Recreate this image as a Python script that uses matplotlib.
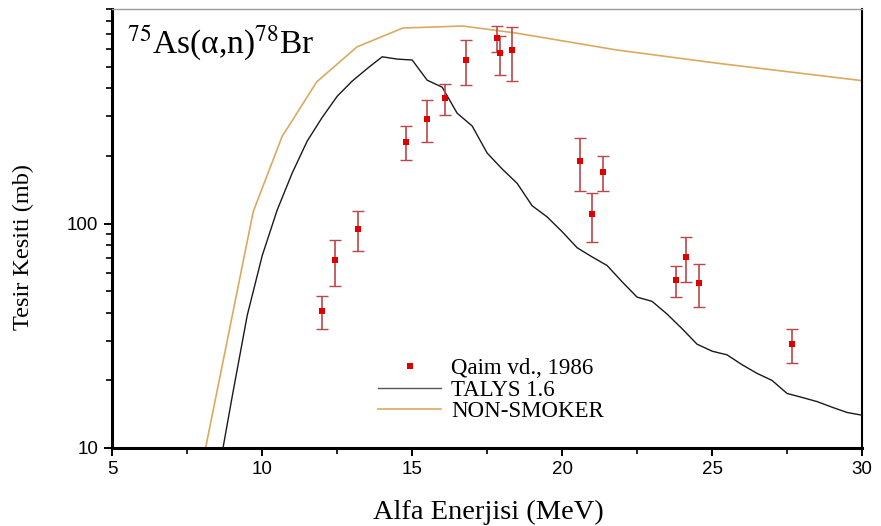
import matplotlib
matplotlib.use("Agg")
import matplotlib.pyplot as plt
from matplotlib.ticker import FixedLocator, NullFormatter, LogLocator
from matplotlib.lines import Line2D

plt.rcParams['mathtext.fontset'] = 'stix'

# --- data -----------------------------------------------------------------
qaim_E = [11.99, 12.42, 13.19, 14.79, 15.49, 16.09, 16.79, 17.82, 17.92, 18.32,
          20.59, 20.99, 21.36, 23.79, 24.12, 24.56, 27.66]
qaim_sigma = [40.7, 68.7, 94.4, 231, 292, 362, 535, 670, 574, 593,
              190, 110, 169, 56, 71, 54.3, 29]
qaim_err = [6.8, 16, 19, 40, 62, 58, 123, 88, 113, 160,
            50, 27, 30, 9, 16, 12, 5]

talys_E = [8.5, 9.0, 9.5, 10.0, 10.5, 11.0, 11.5, 12.0, 12.5, 13.0, 13.5, 14.0,
           14.5, 15.0, 15.5, 16.0, 16.5, 17.0, 17.5, 18.0, 18.5, 19.0, 19.5, 20.0,
           20.5, 21.0, 21.5, 22.0, 22.5, 23.0, 23.5, 24.0, 24.5, 25.0, 25.5, 26.0,
           26.5, 27.0, 27.5, 28.0, 28.5, 29.0, 29.5, 30.0]
talys_sigma = [7.2, 17, 39, 72, 115, 168, 233, 297, 369, 431, 490, 553,
               540, 535, 435, 405, 310, 272, 206, 175, 151, 120, 107, 92,
               78, 71, 65, 55, 47, 45, 39.5, 34, 29, 27, 26, 23.5,
               21.5, 20, 17.5, 16.8, 16.1, 15.2, 14.4, 14.0]

ns_E = [8.0, 9.7, 10.66, 11.82, 13.16, 14.69, 16.69, 18.48, 21.82, 25.16, 30.0]
ns_sigma = [8.45, 113, 244, 428, 612, 743, 758, 705, 593, 518, 433]

x_ticks = [5, 10, 15, 20, 25, 30]
y_ticks = [10, 100]
y_ticklabels = ['10', '100']

series_labels = ['Qaim vd., 1986', 'TALYS 1.6', 'NON-SMOKER']
title_text = r'$^{75}$As(α,n)$^{78}$Br'
xlabel = 'Alfa Enerjisi (MeV)'
ylabel = 'Tesir Kesiti (mb)'

# --- figure ---------------------------------------------------------------
W, H = 881, 526
fig = plt.figure(figsize=(W / 100, H / 100), dpi=100)
ax = fig.add_axes([112.3 / W, (H - 448) / H, (862 - 112.3) / W, (448 - 9.3) / H])

ns_color = '#dcaa5e'
ax.plot(ns_E, ns_sigma, color=ns_color, lw=1.2, zorder=2)
ax.plot(talys_E, talys_sigma, color='#1a1a1a', lw=1.0, zorder=3)
ax.errorbar(qaim_E, qaim_sigma, yerr=qaim_err, fmt='none', ecolor='#b9474a',
            elinewidth=1.2, capsize=4.5, capthick=1.0, zorder=4)
ax.plot(qaim_E, qaim_sigma, 's', color='#e00000', markersize=4.6,
        markeredgewidth=0, zorder=5)

ax.set_yscale('log')
ax.set_xlim(5, 30)
ax.set_ylim(10, 900)

ax.xaxis.set_major_locator(FixedLocator(x_ticks))
ax.xaxis.set_minor_locator(FixedLocator([7.5, 12.5, 17.5, 22.5, 27.5]))
ax.yaxis.set_major_locator(FixedLocator(y_ticks))
ax.set_yticklabels(y_ticklabels)
ax.yaxis.set_minor_locator(LogLocator(base=10, subs=range(2, 10)))
ax.yaxis.set_minor_formatter(NullFormatter())

for lab in ax.get_xticklabels() + ax.get_yticklabels():
    lab.set_family('Liberation Sans')
    lab.set_fontsize(13.5)

ax.tick_params(which='major', direction='out', length=6, width=1.4, pad=3.5)
ax.tick_params(which='minor', direction='out', length=4, width=1.2)
ax.tick_params(axis='y', which='major', pad=4)

for s in ['left', 'bottom']:
    ax.spines[s].set_linewidth(2.2)
ax.spines['top'].set_linewidth(1.0)
ax.spines['top'].set_color('#9a9a9a')
ax.spines['right'].set_linewidth(1.5)

ax.text(0.0196, 0.900, title_text, transform=ax.transAxes, fontsize=24,
        family='Liberation Serif', va='baseline', ha='left')

fig.text(488.5 / W, 1 - 512 / H, xlabel, family='Liberation Serif', fontsize=20.5,
         ha='center', va='center')
fig.text(23 / W, 1 - 247 / H, ylabel, family='Liberation Serif', fontsize=17.5,
         ha='center', va='center', rotation=90)

handles = [Line2D([], [], ls='none', marker='s', color='#e00000', markersize=4.6,
                  markeredgewidth=0),
           Line2D([], [], color='#555555', lw=1.0),
           Line2D([], [], color=ns_color, lw=1.2)]
leg = fig.legend(handles, series_labels, loc='center left',
                 bbox_to_anchor=(378 / W, 1 - 390 / H), frameon=False,
                 prop={'family': 'Liberation Serif', 'size': 16.5},
                 handlelength=2.75, handletextpad=0.45, labelspacing=0.02,
                 borderpad=0, borderaxespad=0)

fig.savefig('out.png', dpi=100)
